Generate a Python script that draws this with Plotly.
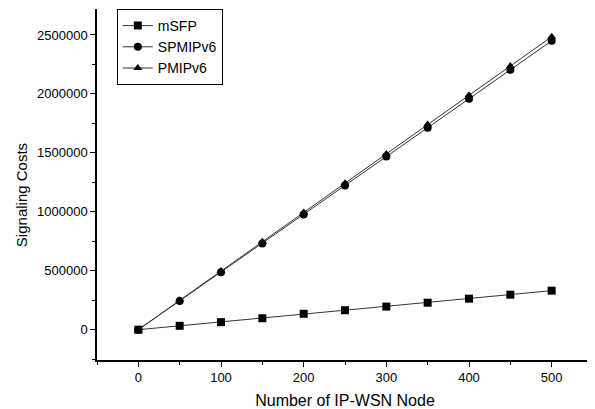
import plotly.graph_objects as go

nodes = [0, 50, 100, 150, 200, 250, 300, 350, 400, 450, 500]
msfp = [0, 33000, 64000, 97000, 135000, 165000, 196000, 229000, 263000, 297000, 331000]
spmipv6 = [0, 244000, 488000, 732000, 978000, 1222000, 1468000, 1712000, 1958000, 2204000, 2450000]
pmipv6 = [0, 249000, 497000, 746000, 994000, 1243000, 1491000, 1740000, 1988000, 2237000, 2485000]

series = [
    ("mSFP", msfp, "square"),
    ("SPMIPv6", spmipv6, "circle"),
    ("PMIPv6", pmipv6, "triangle-up"),
]

fig = go.Figure()
for name, vals, sym in series:
    fig.add_trace(go.Scatter(
        x=nodes, y=vals, name=name, mode="lines+markers",
        line=dict(color="#333333", width=1),
        marker=dict(symbol=sym, size=8, color="black"),
    ))

font = dict(family="Liberation Sans, Arial, sans-serif", color="black")
# page body has an 8px margin, so the figure is sized to fit the 595x409 window
fig.update_layout(
    width=587, height=401,
    margin=dict(l=89, r=2, t=1, b=49),
    plot_bgcolor="white", paper_bgcolor="white",
    font=dict(size=13, **font),
    showlegend=True,
    legend=dict(x=0.04, y=1.0, xanchor="left", yanchor="top",
                bordercolor="black", borderwidth=1, bgcolor="white",
                font=dict(size=14, **font), tracegroupgap=0,
                itemwidth=30),
    xaxis=dict(
        range=[-50, 550], tickvals=[0, 100, 200, 300, 400, 500],
        automargin=False,
        showgrid=False, zeroline=False, showline=True, linecolor="black", linewidth=1.5,
        ticks="outside", ticklen=5, tickcolor="black",
        minor=dict(ticks="outside", ticklen=3, tickcolor="black", dtick=50, tick0=0),
        title=dict(text="Number of IP-WSN Node", font=dict(size=16, **font), standoff=10),
        tickfont=dict(size=13, **font),
    ),
    yaxis=dict(
        range=[-257000, 2720000], tickvals=[0, 500000, 1000000, 1500000, 2000000, 2500000],
        tickformat="d", automargin=False,
        showgrid=False, zeroline=False, showline=True, linecolor="black", linewidth=1.5,
        ticks="outside", ticklen=5, tickcolor="black",
        minor=dict(ticks="outside", ticklen=3, tickcolor="black", dtick=250000, tick0=0),
        tickfont=dict(size=13, **font),
    ),
    annotations=[dict(
        text="Signaling Costs", textangle=-90, showarrow=False,
        xref="paper", yref="paper", x=-0.153, y=0.47,
        xanchor="center", yanchor="middle",
        font=dict(size=15, **font),
    )],
)

fig.write_html("out.html")
